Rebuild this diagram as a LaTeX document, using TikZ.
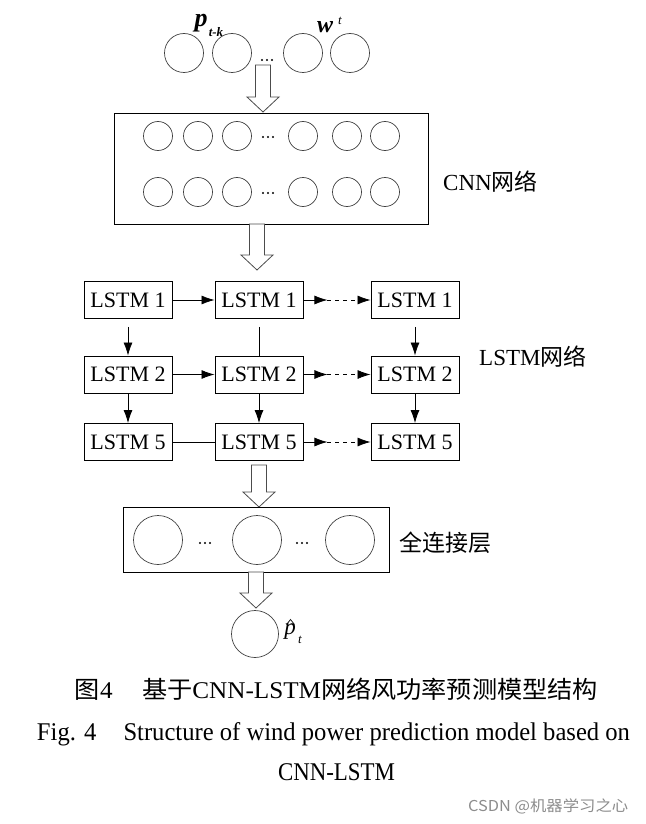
\documentclass[tikz,border=0pt]{standalone}
\usepackage{fontspec}
\setmainfont{Liberation Serif}
\newfontfamily\cjk{Noto Sans CJK SC}
\usepackage{graphicx}
\usetikzlibrary{arrows.meta}
\newcommand\harrow[4]{%
  \draw[hollow] ({#1-7.5},#2) -- ({#1+7.5},#2) -- ({#1+7.5},#3) -- ({#1+16},#3) -- (#1,#4) -- ({#1-16},#3) -- ({#1-7.5},#3) -- cycle;}
\newcommand\threedots[2]{%
  \fill ({#1-5},#2) circle (1.2pt) (#1,#2) circle (1.2pt) ({#1+5},#2) circle (1.2pt);}
\begin{document}
\begin{tikzpicture}[x=1pt,y=-1pt,
 lstm/.style={draw, line width=0.9pt, minimum width=88pt, minimum height=37pt, inner sep=0pt, font=\fontsize{22}{22}\selectfont},
 neur/.style={circle, draw=black!75, line width=0.7pt, inner sep=0pt},
 layerbox/.style={draw, line width=0.9pt, inner sep=0pt},
 arr/.style={-{Latex[length=13pt,width=9pt]}, line width=0.8pt},
 dsh/.style={arr, dash pattern=on 4pt off 4pt},
 hollow/.style={draw=black!70, line width=0.8pt, fill=white},
 lbl/.style={font=\fontsize{23}{23}\selectfont, inner sep=0pt, anchor=west}
]
\useasboundingbox (0,0) rectangle (645,824);
% ---- input layer
\node[neur, minimum size=39pt] (i1) at (184,53) {};
\node[neur, minimum size=39pt] (i2) at (232,53) {};
\node[neur, minimum size=39pt] (i3) at (303,53) {};
\node[neur, minimum size=39pt] (i4) at (350,53) {};
\threedots{267}{60}
\node[inner sep=0pt, font=\fontsize{26}{26}\selectfont\bfseries\itshape] (pl) at (201,23) {p};
\node[inner sep=0pt, font=\fontsize{13}{13}\selectfont\bfseries\itshape] (pls) at (216,32) {t-k};
\node[inner sep=0pt, font=\fontsize{24}{24}\selectfont\bfseries\itshape] (wl) at (325,27) {w};
\node[inner sep=0pt, font=\fontsize{13}{13}\selectfont\itshape] (wls) at (340,21) {t};
\harrow{263}{65}{97}{112}
% ---- CNN
\node[layerbox, minimum width=314pt, minimum height=111pt] (cnn) at (271,168.5) {};
\foreach \x [count=\i] in {158,198,237,303,347,385}{
  \node[neur, minimum size=29pt] (ca\i) at (\x,136) {};
  \node[neur, minimum size=29pt] (cb\i) at (\x,192) {};
}
\threedots{268}{137}
\threedots{268}{193}
\node[lbl] (cnnl) at (443,182) {CNN{\cjk 网络}};
\harrow{257}{224}{255}{270}
% ---- LSTM grid
\foreach \x [count=\c] in {128,259,415}{
  \node[lstm] (a\c) at (\x,300) {LSTM 1};
  \node[lstm] (b\c) at (\x,374.5) {LSTM 2};
  \node[lstm] (d\c) at (\x,442) {LSTM 5};
}
% row 1
\draw[arr] (a1) -- (a2);
\draw[arr] (a2.east) -- ++(24,0) coordinate (ma);
\draw[dsh] (ma) -- (a3.west);
% row 2
\draw[arr] (b1) -- (b2);
\draw[arr] (b2.east) -- ++(24,0) coordinate (mb);
\draw[dsh] (mb) -- (b3.west);
% row 3
\draw[line width=0.8pt] (d1) -- (d2);
\draw[arr] (d2.east) -- ++(24,0) coordinate (md);
\draw[dsh] (md) -- (d3.west);
% vertical
\draw[arr, shorten <=8pt] (a1) -- (b1);
\draw[line width=0.8pt, shorten <=8pt] (a2.south) -- (b2.north);
\draw[arr, shorten <=8pt] (a3) -- (b3);
\draw[arr] (b1) -- (d1);
\draw[arr] (b2) -- (d2);
\draw[arr] (b3) -- (d3);
\node[lbl] (lstml) at (479,357) {LSTM{\cjk 网络}};
\harrow{259}{465}{492}{507}
% ---- fully connected
\node[layerbox, minimum width=266pt, minimum height=65pt] (fc) at (256,539.5) {};
\node[neur, minimum size=49pt] (f1) at (158,540) {};
\node[neur, minimum size=49pt] (f2) at (257,540) {};
\node[neur, minimum size=49pt] (f3) at (350,540) {};
\threedots{205}{543}
\threedots{302}{543}
\node[lbl] (fcl) at (399,543) {\cjk 全连接层};
\harrow{256}{572}{593}{608}
% ---- output
\node[neur, minimum size=47pt] (o) at (255,634) {};
\node[inner sep=0pt, font=\fontsize{23}{23}\selectfont\itshape] (ol) at (290,632) {p};
\draw[line width=0.7pt] (286.5,624.5) -- (290.5,619.5) -- (294.5,624.5);
\node[inner sep=0pt, font=\fontsize{13}{13}\selectfont\itshape] (ols) at (300,640) {t};
% ---- captions
\node[inner sep=0pt] (cap1) at (336.5,689) {\resizebox{523pt}{\height}{\fontsize{24}{24}\selectfont{\cjk 图}4\hspace{28pt}{\cjk 基于}CNN-LSTM{\cjk 网络风功率预测模型结构}}};
\node[inner sep=0pt, anchor=base] (cap2) at (333.5,740) {\resizebox{593pt}{\height}{\fontsize{25.5}{25.5}\selectfont Fig. 4\hspace{28pt}Structure of wind power prediction model based on}};
\node[inner sep=0pt, anchor=base] (cap3) at (336.5,780) {\resizebox{117pt}{\height}{\fontsize{25.5}{25.5}\selectfont CNN-LSTM}};
\node[inner sep=0pt, anchor=west, text=black!45] (wm) at (468,806) {\resizebox{160pt}{\height}{\fontsize{15}{15}\selectfont\cjk CSDN @机器学习之心}};
\end{tikzpicture}
\end{document}
